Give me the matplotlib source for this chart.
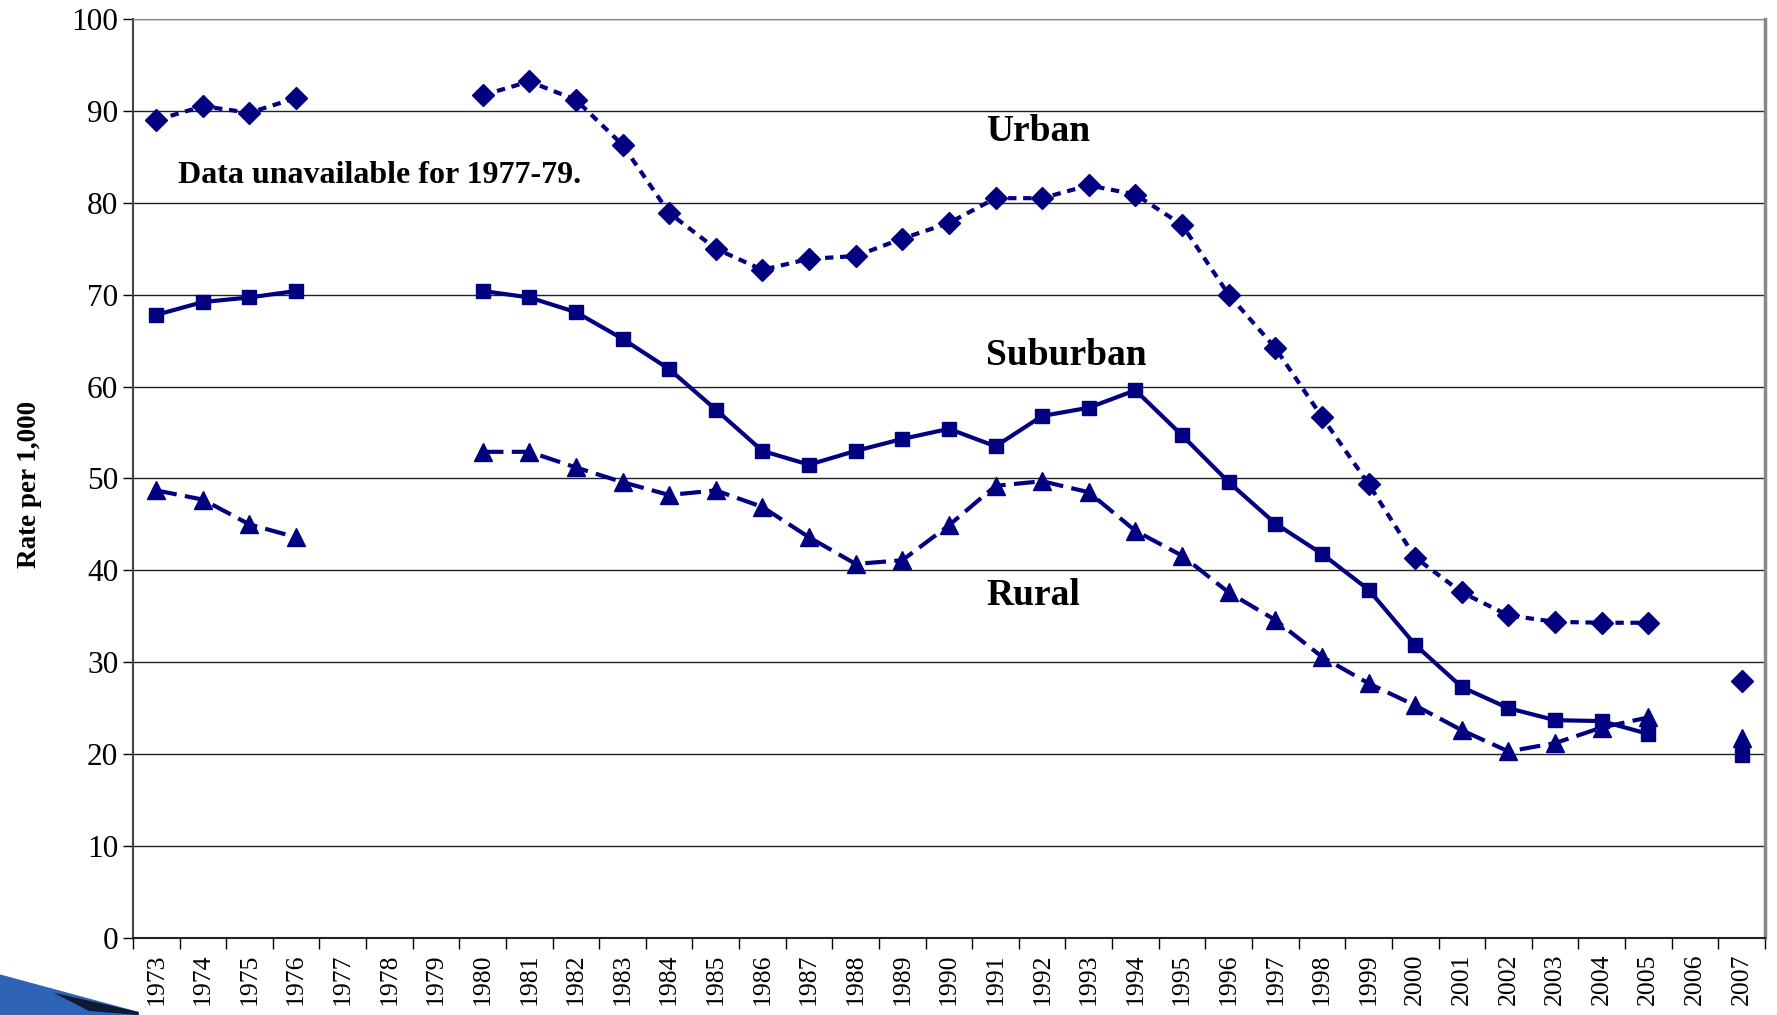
import matplotlib.pyplot as plt
import numpy as np
from matplotlib.patches import Polygon

nan = np.nan

years = [str(y) for y in range(1973, 2008)]

# rates per 1,000 (1977-79 and 2006 unavailable)
urban = [89.0, 90.5, 89.8, 91.4, nan, nan, nan, 91.7, 93.2, 91.2, 86.3, 78.9,
         75.0, 72.7, 73.9, 74.2, 76.1, 77.8, 80.5, 80.5, 81.9, 80.9, 77.6, 70.0,
         64.2, 56.7, 49.4, 41.4, 37.6, 35.1, 34.4, 34.3, 34.3, nan, 28.0]
suburban = [67.8, 69.2, 69.7, 70.4, nan, nan, nan, 70.4, 69.7, 68.1, 65.2, 61.9,
            57.5, 53.0, 51.5, 53.0, 54.3, 55.4, 53.5, 56.8, 57.7, 59.6, 54.7, 49.6,
            45.1, 41.8, 37.9, 31.9, 27.3, 25.0, 23.7, 23.6, 22.2, nan, 19.9]
rural = [48.7, 47.7, 45.0, 43.6, nan, nan, nan, 52.9, 52.9, 51.2, 49.6, 48.2,
         48.7, 46.9, 43.6, 40.7, 41.1, 44.9, 49.2, 49.7, 48.5, 44.3, 41.6, 37.6,
         34.6, 30.6, 27.7, 25.3, 22.6, 20.3, 21.2, 22.9, 24.0, nan, 21.8]

plt.rcParams['font.family'] = ['Liberation Serif', 'DejaVu Serif']

navy = '#000080'
fig = plt.figure(figsize=(17.77, 10.15), dpi=100)
ax = fig.add_axes([0.0748, 0.0759, 0.9184, 0.9054])

x = np.arange(len(years))
ax.plot(x, urban, color=navy, lw=3, ls=(0, (2, 1.6)), marker='D', ms=11.5)
ax.plot(x, suburban, color=navy, lw=3, ls='-', marker='s', ms=10)
ax.plot(x, rural, color=navy, lw=3, ls=(0, (5, 2)), marker='^', ms=13)

ax.set_xlim(-0.5, len(years) - 0.5)
ax.set_ylim(0, 100)
ax.set_yticks(range(0, 101, 10))
ax.tick_params(axis='y', labelsize=22.5, length=7, width=1, direction='out')
ax.set_xticks(x)
ax.set_xticklabels(years, rotation=90, fontsize=18.5)
ax.tick_params(axis='x', which='major', length=0, pad=11)
ax.set_xticks(np.arange(-0.5, len(years), 1), minor=True)
ax.tick_params(axis='x', which='minor', length=8, width=1, direction='out')
ax.grid(axis='y', color='#222222', lw=1)
ax.set_axisbelow(True)

ax.spines['left'].set_color('#444444')
ax.spines['left'].set_linewidth(1.5)
ax.spines['bottom'].set_color('#222222')
ax.spines['bottom'].set_linewidth(1.5)
ax.spines['top'].set_color('#888888')
ax.spines['right'].set_color('#888888')
ax.spines['right'].set_linewidth(2.5)

ax.set_ylabel('Rate per 1,000', fontsize=19.5, fontweight='bold')
ax.yaxis.set_label_coords(-0.056, 0.493)

ax.text(17.8, 87.8, 'Urban', fontsize=27, fontweight='bold', va='center')
ax.text(17.8, 63.4, 'Suburban', fontsize=27, fontweight='bold', va='center')
ax.text(17.8, 37.3, 'Rural', fontsize=27, fontweight='bold', va='center')
ax.text(0.47, 83.0, 'Data unavailable for 1977-79.', fontsize=23,
        fontweight='bold', va='center')

# slide decoration in the bottom-left corner
fig.patches.append(Polygon([[0, 0.040], [0.078, 0.003], [0.078, 0], [0, 0]],
                           closed=True, transform=fig.transFigure,
                           facecolor='#2f63b5', edgecolor='none'))
fig.patches.append(Polygon([[0.03, 0.022], [0.078, 0.003], [0.078, 0], [0.05, 0.004]],
                           closed=True, transform=fig.transFigure,
                           facecolor='#0d1a33', edgecolor='none'))

fig.savefig('out.png', dpi=100)
